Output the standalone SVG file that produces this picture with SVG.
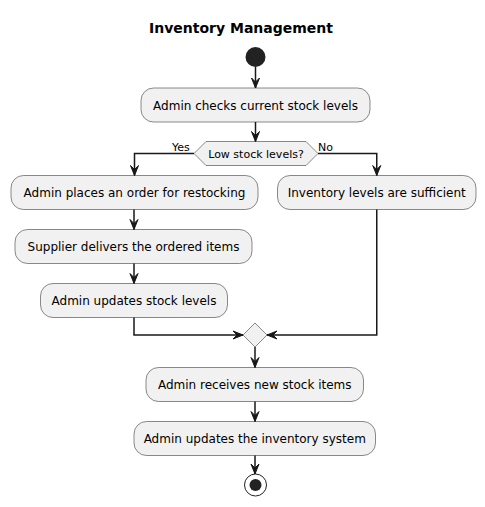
<svg xmlns="http://www.w3.org/2000/svg" width="485" height="507" viewBox="0 0 485 507">
<style>
.bg{fill:#FFFFFF}
.box{fill:#F1F1F1;stroke:#181818;stroke-width:0.5}
.t{font-family:"DejaVu Sans",sans-serif;font-size:12px;fill:#000000;text-anchor:middle}
.s{font-family:"DejaVu Sans",sans-serif;font-size:11px;fill:#000000}
.title{font-family:"DejaVu Sans",sans-serif;font-size:14px;font-weight:bold;fill:#000000;text-anchor:middle}
.ln{fill:none;stroke:#181818;stroke-width:1.5}
.ah{fill:#181818;stroke:#181818;stroke-width:1}
</style>
<rect class="bg" x="0" y="0" width="485" height="507"/>
<text class="title" x="241" y="33">Inventory Management</text>
<g id="start"><circle cx="255.5" cy="57" r="10" fill="#222222"/></g>
<g id="checkStock"><rect class="box" x="141" y="88" width="229" height="34" rx="12.5"/><text class="t" x="255.5" y="109.5">Admin checks current stock levels</text></g>
<g id="decision"><polygon class="box" points="194,153.5 206,141.5 306,141.5 318,153.5 306,165.5 206,165.5"/><text class="s" x="256" y="157.5" text-anchor="middle">Low stock levels?</text></g>
<g id="placeOrder"><rect class="box" x="11" y="175.5" width="247" height="34" rx="12.5"/><text class="t" x="134.5" y="197">Admin places an order for restocking</text></g>
<g id="sufficient"><rect class="box" x="277.5" y="175.5" width="198.5" height="34" rx="12.5"/><text class="t" x="376.75" y="197">Inventory levels are sufficient</text></g>
<g id="supplierDelivers"><rect class="box" x="15" y="229.5" width="237" height="34" rx="12.5"/><text class="t" x="133.5" y="251">Supplier delivers the ordered items</text></g>
<g id="updateLevels"><rect class="box" x="40.5" y="283.5" width="187" height="34" rx="12.5"/><text class="t" x="134" y="305">Admin updates stock levels</text></g>
<g id="merge"><polygon class="box" points="255,323 267,335 255,347 243,335"/></g>
<g id="receiveItems"><rect class="box" x="146" y="367.5" width="217.5" height="34" rx="12.5"/><text class="t" x="254.75" y="389">Admin receives new stock items</text></g>
<g id="updateSystem"><rect class="box" x="134" y="421.5" width="241.5" height="34" rx="12.5"/><text class="t" x="254.75" y="443">Admin updates the inventory system</text></g>
<g id="end"><circle cx="255.5" cy="485" r="11" fill="none" stroke="#222222" stroke-width="1"/><circle cx="255.5" cy="485" r="6" fill="#222222"/></g>
<g id="connectors">
<path class="ln" d="M255.5,67 V88"/><polygon class="ah" points="251.5,78 255.5,88 259.5,78 255.5,82"/>
<path class="ln" d="M255.5,122 V141.5"/><polygon class="ah" points="251.5,131.5 255.5,141.5 259.5,131.5 255.5,135.5"/>
<path class="ln" d="M194,153.5 H134.5 V175.5"/><polygon class="ah" points="130.5,165.5 134.5,175.5 138.5,165.5 134.5,169.5"/>
<text class="s" x="172" y="151">Yes</text>
<path class="ln" d="M318,153.5 H376.75 V175.5"/><polygon class="ah" points="372.75,165.5 376.75,175.5 380.75,165.5 376.75,169.5"/>
<text class="s" x="318" y="151">No</text>
<path class="ln" d="M134,209.5 V229.5"/><polygon class="ah" points="130,219.5 134,229.5 138,219.5 134,223.5"/>
<path class="ln" d="M134,263.5 V283.5"/><polygon class="ah" points="130,273.5 134,283.5 138,273.5 134,277.5"/>
<path class="ln" d="M134,317.5 V335 H243"/><polygon class="ah" points="233,331 243,335 233,339 237,335"/>
<path class="ln" d="M376.75,209.5 V335 H267"/><polygon class="ah" points="277,331 267,335 277,339 273,335"/>
<path class="ln" d="M255,347 V367.5"/><polygon class="ah" points="251,357.5 255,367.5 259,357.5 255,361.5"/>
<path class="ln" d="M255,401.5 V421.5"/><polygon class="ah" points="251,411.5 255,421.5 259,411.5 255,415.5"/>
<path class="ln" d="M255,455.5 V474"/><polygon class="ah" points="251,464 255,474 259,464 255,468"/>
</g>
</svg>
